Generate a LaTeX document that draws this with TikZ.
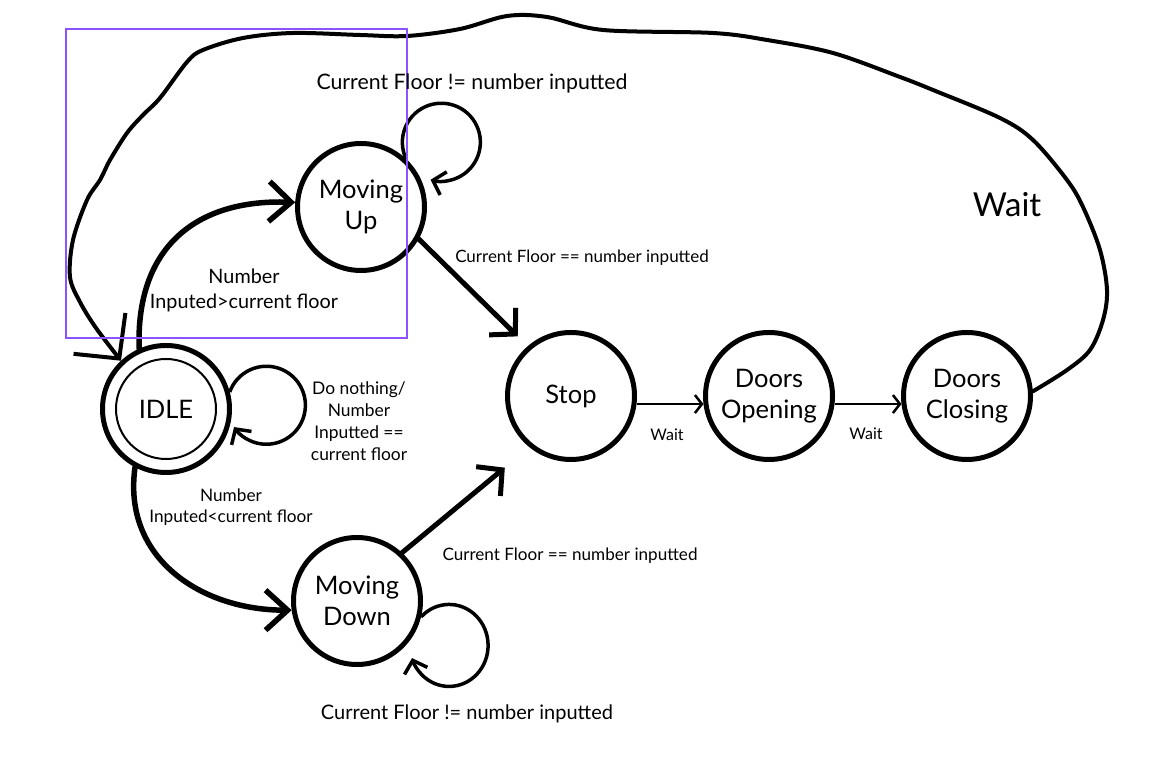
\documentclass[tikz,border=0pt]{standalone}
\usepackage{fontspec}
\setmainfont{Lato}
\usetikzlibrary{arrows.meta}
\definecolor{selbox}{HTML}{8C52FF}
\newcommand{\fs}[1]{\fontsize{#1}{1.3\dimexpr#1pt\relax}\selectfont}

\begin{document}
\begin{tikzpicture}[
  x=1pt, y=1pt,
  every node/.style={font=\fs{16}, align=center},
  state/.style={circle, draw, line width=5pt, minimum size=127pt, inner sep=0pt, font=\fontsize{25.5}{31}\selectfont},
  bigarrow/.style={line width=5.5pt, line cap=round, -{Straight Barb[length=22pt,width=40pt]}},
  midarrow/.style={line width=5pt, line cap=round, -{Straight Barb[length=18pt,width=38pt]}},
  selfloop/.style={line width=3.5pt, -{Straight Barb[length=11pt,width=24pt]}},
  thinarrow/.style={line width=2.5pt, -{Straight Barb[length=7pt,width=18pt]}},
  waitloop/.style={line width=4pt, line cap=round, -{Straight Barb[length=32pt,width=66pt]}}
]
\useasboundingbox (0,0) rectangle (1172,770);

% states
\node[state] (idle) at (166,361) {IDLE};
\node[state] (up) at (361,563) {Moving\\Up};
\node[state] (stop) at (571,374) {Stop};
\node[state] (open) at (769,374) {Doors\\Opening};
\node[state] (close) at (967,374) {Doors\\Closing};
\node[state] (down) at (357,169) {Moving\\Down};
\draw[line width=2pt] (idle.center) circle[radius=50];

% transitions
\draw[bigarrow] (idle.114) to[out=92, in=178, looseness=1.2] (up.176);
\draw[bigarrow] (idle.242) to[out=262, in=180, looseness=1.1] (down.188);
\draw[midarrow, shorten >=14pt] (up.-29) -- (stop.131);
\draw[midarrow, shorten >=32pt] (down.47) -- (stop.231);
\draw[thinarrow] (stop.-7) -- (open.187);
\draw[thinarrow] (open.-7) -- (close.187);

% self loops
\draw[selfloop] (up.47) arc[start angle=205, end angle=-106, radius=39];
\draw[selfloop] (idle.15) arc[start angle=160, end angle=-146, radius=39];
\draw[selfloop] (down.-14) arc[start angle=136, end angle=-162, x radius=39, y radius=41];

% back to idle
\draw[waitloop] plot[smooth, tension=0.55] coordinates {(close.4) (1067,400) (1090,420)
  (1103,450) (1107,480) (1100,520) (1083,563) (1067,590) (1033,630) (1000,652)
  (933,680) (900,693) (833,717) (767,730) (713,737) (603,740) (547,753)
  (507,754) (460,741) (407,734) (360,735) (293,737) (243,732) (203,720) (187,708)
  (160,672) (143,655) (127,637) (110,610) (100,590) (87,570) (73,530) (70,493)
  (80,468) (96,442) (idle.133)};

% selection frame
\draw[selbox, line width=2pt] (66,741) rectangle (407,432);

% labels
\node[font=\fs{21.3}] (lupself) at (472,687) {Current Floor != number inputted};
\node[font=\fs{17}] (lupstop) at (582,512) {Current Floor == number inputted};
\node[font=\fontsize{19.8}{25}\selectfont] (lidleup) at (244,480) {Number\\Inputed>current floor};
\node[font=\fontsize{17.4}{22}\selectfont] (lidleself) at (359,349) {Do nothing/\\Number\\Inputted ==\\current floor};
\node[font=\fontsize{17.2}{21}\selectfont] (lidledown) at (231,263) {Number\\Inputed<current floor};
\node[font=\fs{17.1}] (ldownstop) at (570,214) {Current Floor == number inputted};
\node[font=\fs{20}] (ldownself) at (467,56) {Current Floor != number inputted};
\node (lwaitone) at (667,335) {Wait};
\node (lwaittwo) at (866,336) {Wait};
\node[font=\fs{33}] (lwaitbig) at (1007,565) {Wait};
\end{tikzpicture}
\end{document}
